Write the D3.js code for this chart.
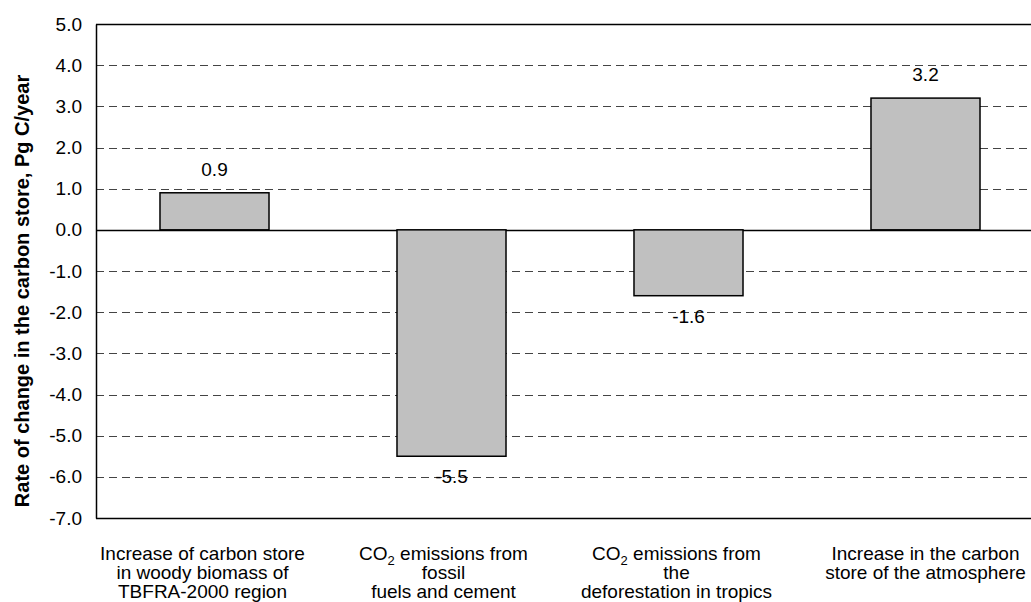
<!DOCTYPE html>
<html lang="en">
<head>
<meta charset="UTF-8">
<title>Rate of change in the carbon store</title>
<style>
    html, body { margin: 0; padding: 0; background: #fff; overflow: hidden; }
    svg { display: block; font-family: 'Liberation Sans', Arial, sans-serif; }
</style>
</head>
<body>
<div id="chart"></div>
<script src="https://d3js.org/d3.v7.min.js"></script>
<script>
    // data
    const categories = ["woody", "fossil", "deforest", "atmos"];
    const values = [0.9, -5.5, -1.6, 3.2];
    const valueLabels = ["0.9", "-5.5", "-1.6", "3.2"];
    // category labels, each line as list of [text, isSubscript] parts
    const categoryLines = [
        [[["Increase of carbon store", false]], [["in woody biomass of", false]], [["TBFRA-2000 region", false]]],
        [[["CO", false], ["2", true], [" emissions from", false]], [["fossil", false]], [["fuels and cement", false]]],
        [[["CO", false], ["2", true], [" emissions from", false]], [["the", false]], [["deforestation in tropics", false]]],
        [[["Increase in the carbon", false]], [["store of the atmosphere", false]]]
    ];
    const yTicks = [5, 4, 3, 2, 1, 0, -1, -2, -3, -4, -5, -6, -7];
    const yTitle = "Rate of change in the carbon store, Pg C/year";

    const W = 1031, H = 602;
    const margin = {top: 24, left: 96, bottom: 84};
    // small horizontal nudges of the category labels (layout only)
    const labelShift = [-12, -8, -12, 0];

    const svg = d3.select("#chart").append("svg")
        .attr("width", W).attr("height", H);

    const y = d3.scaleLinear()
        .domain([-7, 5])
        .range([H - margin.bottom, margin.top]);

    const x = d3.scaleBand()
        .domain(categories)
        .range([margin.left, margin.left + 4 * 237])
        .paddingInner(0.54)
        .paddingOuter(0.27);

    // gridlines
    svg.append("g")
        .selectAll("line")
        .data(yTicks.filter(d => d !== 0 && d !== 5 && d !== -7))
        .enter().append("line")
        .attr("x1", margin.left).attr("x2", W)
        .attr("y1", d => Math.round(y(d)) + 0.5)
        .attr("y2", d => Math.round(y(d)) + 0.5)
        .style("stroke", "#444")
        .style("stroke-width", 1)
        .style("stroke-dasharray", "8,5");

    // frame lines: top, zero, bottom
    svg.append("g")
        .selectAll("line")
        .data([5, 0, -7])
        .enter().append("line")
        .attr("x1", margin.left).attr("x2", W)
        .attr("y1", d => Math.round(y(d)) + 0.5)
        .attr("y2", d => Math.round(y(d)) + 0.5)
        .style("stroke", "#000")
        .style("stroke-width", 1.5);

    // bars
    svg.append("g")
        .selectAll("rect")
        .data(values)
        .enter().append("rect")
        .attr("x", (d, i) => x(categories[i]))
        .attr("width", x.bandwidth())
        .attr("y", d => y(Math.max(0, d)))
        .attr("height", d => Math.abs(y(d) - y(0)))
        .style("fill", "#c0c0c0")
        .style("stroke", "#000")
        .style("stroke-width", 1.5);

    // value labels
    svg.append("g")
        .selectAll("text")
        .data(values)
        .enter().append("text")
        .attr("x", (d, i) => x(categories[i]) + x.bandwidth() / 2)
        .attr("y", d => d >= 0 ? y(d) - 17 : y(d) + 27)
        .attr("text-anchor", "middle")
        .style("font-size", "19px")
        .style("fill", "#000")
        .text((d, i) => valueLabels[i]);

    // y axis
    const yAxis = d3.axisLeft(y)
        .tickValues(yTicks)
        .tickSize(0)
        .tickPadding(14)
        .tickFormat(d => d.toFixed(1));

    const gy = svg.append("g")
        .attr("transform", `translate(${margin.left},0)`)
        .call(yAxis);
    gy.select(".domain").style("stroke", "#000").style("stroke-width", 1.5);
    gy.selectAll("text")
        .style("font-size", "19px")
        .style("fill", "#000")
        .style("font-family", "'Liberation Sans', Arial, sans-serif");

    // y title
    svg.append("text")
        .attr("transform", `translate(29, ${(margin.top + H - margin.bottom) / 2 + 20}) rotate(-90)`)
        .attr("text-anchor", "middle")
        .style("font-size", "20px")
        .style("font-weight", "bold")
        .text(yTitle);

    // category labels
    categoryLines.forEach((lines, i) => {
        const cx = x(categories[i]) + x.bandwidth() / 2 + labelShift[i];
        lines.forEach((parts, j) => {
            const t = svg.append("text")
                .attr("x", cx)
                .attr("y", 560 + j * 19)
                .attr("text-anchor", "middle")
                .style("font-size", "19px")
                .style("fill", "#000");
            parts.forEach(([s, sub]) => {
                const ts = t.append("tspan").text(s);
                if (sub) ts.attr("dy", 5).style("font-size", "13px");
                else if (t.selectAll("tspan").size() > 1) ts.attr("dy", -5);
            });
        });
    });
</script>
</body>
</html>
